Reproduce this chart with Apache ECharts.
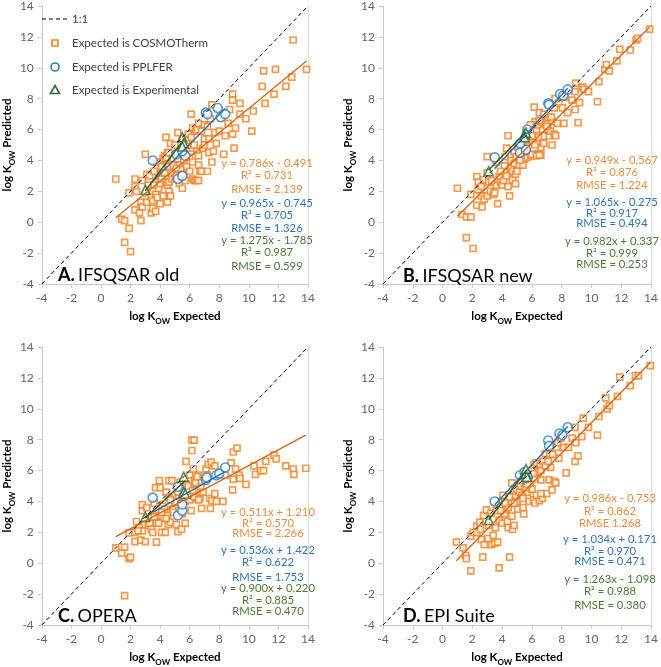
<!DOCTYPE html>
<html><head><meta charset="utf-8">
<script src="https://cdn.jsdelivr.net/npm/echarts@6/dist/echarts.min.js"></script>
<style>html,body{margin:0;padding:0;background:#fff}#c{width:661px;height:667px}</style>
</head><body><div id="c"></div>
<script>
// ---------------- DATA ----------------
const axisTicks = [-4, -2, 0, 2, 4, 6, 8, 10, 12, 14];
const identityLine = [-4, 14];
const seriesNames = ['1:1', 'Expected is COSMOTherm', 'Expected is PPLFER', 'Expected is Experimental'];
const panelLetters = ['A.', 'B.', 'C.', 'D.'];
const panelNames = ['IFSQSAR old', 'IFSQSAR new', 'OPERA', 'EPI Suite'];

const cosmoA = [[1.0,2.8],[1.4,0.2],[1.6,0.1],[1.6,-1.3],[1.9,-0.4],[2.0,-1.9],[1.9,1.9],[2.3,2.8],[2.3,2.3],[2.4,2.0],[2.3,0.8],[2.6,0.6],[2.7,0.1],[2.7,1.3],[2.8,2.7],[2.8,1.0],[3.0,4.4],[3.1,1.3],[3.1,1.9],[3.1,3.1],[3.2,2.4],[3.4,1.6],[3.4,0.6],[3.5,0.9],[3.5,1.4],[3.6,2.4],[3.7,1.8],[3.7,0.7],[3.8,3.8],[3.8,3.5],[3.9,3.0],[3.9,2.2],[4.0,2.5],[4.0,1.2],[4.0,3.9],[4.1,2.8],[4.2,4.1],[4.2,3.4],[4.3,3.2],[4.3,4.3],[4.4,5.5],[4.4,2.6],[4.5,4.5],[4.5,2.4],[4.5,1.3],[4.6,2.0],[4.6,2.6],[4.6,3.6],[4.7,1.7],[4.7,5.1],[4.8,2.8],[4.8,3.2],[4.8,4.0],[4.9,4.1],[4.9,3.7],[5.0,5.0],[5.0,2.9],[5.1,3.0],[5.2,4.1],[5.2,5.8],[5.3,3.7],[5.3,2.5],[5.4,3.4],[5.4,4.6],[5.5,2.2],[5.6,4.0],[5.6,3.1],[5.7,4.4],[5.7,2.7],[5.8,3.6],[5.9,5.7],[5.9,5.0],[6.0,3.3],[6.0,4.2],[6.1,7.0],[6.2,6.1],[6.2,4.8],[6.2,3.9],[6.2,2.8],[6.3,2.7],[6.4,2.7],[6.5,2.7],[6.6,2.7],[6.4,5.9],[6.5,4.6],[6.6,6.4],[6.6,4.3],[6.6,3.7],[6.7,3.3],[6.8,3.3],[6.9,4.8],[7.0,6.3],[7.0,5.4],[7.0,5.0],[7.2,3.3],[7.3,5.4],[7.3,4.5],[7.4,6.7],[7.5,7.6],[7.5,3.9],[7.6,4.6],[7.7,5.8],[7.8,5.1],[8.0,5.9],[8.3,4.4],[8.4,5.6],[8.6,6.4],[8.7,7.3],[8.9,8.3],[8.9,7.9],[8.9,5.7],[9.0,4.8],[9.1,6.1],[9.4,7.7],[9.4,7.0],[9.8,6.7],[10.2,5.9],[10.3,7.2],[10.9,8.8],[11.0,9.8],[11.1,7.7],[11.7,8.3],[11.8,9.9],[12.5,8.8],[12.9,9.4],[13.0,11.8],[13.9,9.9],[3.3,3.0],[3.6,3.3],[4.1,3.6],[4.4,4.2],[4.6,4.5],[5.2,4.5],[5.5,5.4],[5.8,5.3],[6.1,5.5],[6.3,5.0],[6.5,6.0],[6.8,5.9],[7.2,6.2],[5.1,3.5],[4.2,1.7],[3.8,1.6]];
const pplferA = [[3.5,4.0],[5.2,2.8],[5.5,3.0],[5.1,4.4],[5.7,4.3],[5.5,4.6],[7.1,7.1],[7.2,7.0],[7.9,7.4],[8.1,6.8],[8.4,7.0]];
const expA = [[3.0,2.1],[5.5,5.5],[5.6,5.1],[5.5,4.9]];

const cosmoB = [[1.0,2.2],[1.3,0.5],[1.6,0.35],[1.9,0.35],[1.6,-1.0],[2.05,-1.7],[1.9,1.8],[2.3,2.95],[2.4,2.6],[2.4,2.1],[2.3,1.1],[2.65,1.0],[2.6,1.7],[2.6,2.3],[2.75,2.75],[2.8,1.5],[3.0,4.25],[3.0,3.2],[3.1,2.6],[3.0,1.7],[3.2,2.0],[3.4,1.8],[3.5,1.9],[3.6,2.4],[3.7,1.2],[3.8,2.95],[3.9,2.6],[4.0,2.4],[4.1,2.7],[4.15,3.65],[4.2,4.25],[4.3,4.8],[4.4,5.6],[4.5,1.7],[4.5,3.2],[4.6,3.5],[4.7,2.75],[4.7,3.3],[4.6,4.0],[4.8,3.8],[4.8,4.55],[4.95,4.25],[4.9,3.1],[5.05,4.9],[5.15,3.7],[5.4,3.7],[5.4,4.6],[5.6,4.9],[5.7,4.5],[5.8,5.4],[5.95,5.9],[6.05,5.15],[6.1,6.2],[6.15,7.45],[6.2,6.5],[6.25,4.4],[6.4,4.4],[6.45,5.5],[6.5,7.1],[6.6,4.85],[6.6,4.35],[6.7,6.0],[6.75,5.15],[6.9,6.7],[7.05,6.0],[7.1,6.8],[7.15,5.6],[7.25,5.9],[7.35,5.0],[7.4,6.5],[7.5,5.7],[7.55,8.0],[7.6,5.6],[7.7,6.4],[7.8,7.7],[8.05,7.4],[8.15,6.4],[8.25,8.1],[8.4,7.1],[8.7,7.9],[8.9,8.45],[8.95,9.0],[8.9,7.3],[9.1,6.45],[9.2,7.75],[9.4,8.75],[9.5,8.6],[9.8,8.45],[10.4,7.8],[10.5,9.1],[10.9,9.9],[11.0,10.2],[11.2,9.8],[11.7,10.45],[11.9,11.2],[12.6,11.15],[13.0,11.8],[13.1,11.9],[13.9,12.5],[5.3,4.3],[5.5,4.1],[5.7,4.2],[5.9,4.3],[6.0,4.4],[6.3,4.3],[6.5,4.35],[6.2,5.0],[6.0,5.6],[6.3,6.0],[6.4,6.3],[6.6,6.5],[5.9,6.3],[6.5,6.6],[7.0,6.2],[6.8,5.1],[7.5,7.4],[7.3,6.8],[6.8,7.0],[3.3,2.7],[3.9,3.3],[4.3,3.0],[4.4,2.3],[3.6,3.9],[4.9,2.5],[5.2,4.0],[5.0,3.3]];
const pplferB = [[3.5,4.2],[5.2,4.5],[5.6,4.7],[5.2,5.1],[5.7,6.0],[7.1,7.7],[7.15,7.6],[7.9,8.3],[8.1,8.2],[8.4,8.6]];
const expB = [[3.1,3.3],[5.5,5.7],[5.6,5.8],[5.5,5.5]];

const cosmoC = [[1.0,1.0],[1.4,0.66],[1.6,1.04],[1.9,0.3],[2.0,0.4],[1.6,-2.1],[1.9,1.97],[2.3,1.4],[2.3,2.0],[2.4,2.7],[2.6,2.3],[2.7,1.5],[2.8,3.4],[2.8,3.8],[2.8,2.1],[3.0,1.4],[3.1,3.6],[3.2,2.45],[3.4,2.98],[3.4,2.2],[3.5,2.0],[3.6,3.9],[3.7,4.9],[3.75,2.6],[3.75,1.37],[3.9,3.1],[3.95,5.35],[4.0,4.9],[4.1,2.0],[4.15,3.7],[4.2,2.9],[4.35,2.0],[4.4,4.6],[4.5,3.1],[4.55,2.5],[4.6,4.25],[4.6,5.35],[4.7,2.65],[4.8,5.35],[4.85,3.5],[5.0,3.95],[5.1,2.5],[5.2,2.05],[5.25,4.4],[5.35,5.25],[5.45,2.2],[5.5,3.2],[5.7,2.6],[5.75,6.6],[5.8,5.1],[5.9,4.4],[6.0,5.7],[6.1,3.4],[6.15,7.97],[6.3,7.97],[6.15,7.3],[6.25,6.1],[6.35,5.35],[6.45,4.8],[6.5,4.2],[6.6,5.7],[6.7,4.2],[6.75,4.9],[6.8,3.55],[7.0,5.35],[7.1,6.1],[7.25,6.4],[7.35,4.2],[7.4,3.55],[7.45,6.55],[7.5,4.05],[7.7,6.3],[7.7,4.5],[7.8,4.0],[8.25,4.0],[8.4,5.7],[8.8,6.5],[8.9,4.75],[8.95,5.45],[8.95,7.2],[9.1,6.1],[9.2,7.45],[9.35,5.7],[9.4,5.5],[9.8,5.1],[10.35,6.3],[10.45,5.75],[10.8,6.0],[11.0,6.0],[11.15,6.6],[11.7,7.0],[11.85,6.75],[12.5,6.3],[13.0,6.1],[13.05,5.75],[13.85,6.15],[5.2,4.6],[5.5,4.3],[5.7,4.0],[6.0,4.1],[6.3,4.3],[6.6,4.1],[6.9,4.6],[6.4,5.2],[6.8,5.3],[5.9,5.0],[6.2,4.7],[5.4,3.8],[4.9,3.3],[4.4,2.9],[3.9,2.6],[4.3,3.5],[4.7,4.1],[5.3,5.0],[6.5,5.6],[7.2,5.7],[3.3,2.6],[3.6,3.0],[4.1,3.3],[2.5,2.1]];
const pplferC = [[3.5,4.25],[5.2,3.1],[5.5,3.4],[5.5,3.8],[5.2,4.95],[7.1,5.4],[7.15,5.55],[7.8,5.7],[8.0,5.8],[8.4,6.2]];
const expC = [[3.0,3.0],[5.6,5.6],[5.6,4.6],[5.7,4.5]];

const cosmoD = [[0.93,1.37],[1.38,1.0],[1.56,0.5],[1.6,0.3],[1.9,-0.5],[1.9,1.76],[2.05,2.0],[2.3,2.4],[2.3,2.0],[2.5,2.66],[2.55,2.2],[2.6,1.55],[2.7,0.4],[2.75,3.1],[2.8,1.2],[2.95,3.45],[3.05,1.6],[3.1,2.45],[3.25,3.25],[3.3,1.2],[3.4,1.8],[3.5,1.3],[3.55,2.3],[3.6,3.4],[3.7,1.36],[3.8,-0.3],[3.8,2.8],[3.95,3.95],[4.0,2.6],[4.05,4.4],[4.15,3.2],[4.25,3.5],[4.35,2.7],[4.4,2.3],[4.5,0.4],[4.5,4.3],[4.6,3.85],[4.65,5.2],[4.65,3.05],[4.7,2.2],[4.8,2.45],[4.9,4.3],[4.95,4.8],[5.05,3.5],[5.15,4.6],[5.25,5.0],[5.4,3.6],[5.45,3.2],[5.5,4.9],[5.6,5.35],[5.7,4.6],[5.8,4.0],[5.85,5.7],[5.95,6.0],[6.0,4.8],[6.1,4.1],[6.15,6.4],[6.2,3.9],[6.3,6.5],[6.4,5.7],[6.5,4.05],[6.55,6.4],[6.6,5.4],[6.7,4.2],[6.75,6.6],[6.9,7.1],[7.0,4.5],[7.15,5.4],[7.2,7.05],[7.25,6.2],[7.35,4.75],[7.4,7.05],[7.5,5.3],[7.6,5.2],[7.65,7.5],[7.75,7.8],[7.8,6.8],[7.95,8.1],[8.15,7.5],[8.3,5.85],[8.45,7.5],[8.7,8.1],[8.9,8.8],[8.95,7.8],[8.9,6.6],[9.1,6.95],[9.35,8.2],[9.45,9.4],[9.8,8.8],[10.4,8.3],[10.5,9.5],[10.95,10.7],[11.05,10.0],[11.2,10.2],[11.75,10.8],[11.9,12.05],[12.6,11.5],[12.95,12.15],[13.15,12.15],[13.95,12.8],[5.3,4.4],[5.6,4.9],[5.9,5.2],[6.2,5.5],[6.4,5.9],[6.1,5.8],[5.7,5.1],[5.0,4.0],[4.4,3.6],[3.9,3.4],[4.8,3.9],[6.6,6.0],[6.9,6.3],[7.1,6.6],[6.3,4.4],[6.6,4.5],[5.4,4.2],[4.2,3.9]];
const pplferD = [[3.5,4.0],[5.2,5.7],[5.5,5.9],[5.7,5.6],[5.6,5.5],[7.1,7.95],[7.15,7.6],[7.85,8.4],[8.05,8.3],[8.4,8.8]];
const expD = [[3.1,2.8],[5.5,5.8],[5.6,6.1],[5.65,5.6]];

// fitted trendlines printed on the chart: [COSMOTherm, PPLFER, Experimental]
const slopesA = [0.786, 0.965, 1.275], interceptsA = [-0.491, -0.745, -1.785];
const slopesB = [0.949, 1.065, 0.982], interceptsB = [-0.567, -0.275, 0.337];
const slopesC = [0.511, 0.536, 0.900], interceptsC = [1.210, 1.422, 0.220];
const slopesD = [0.986, 1.034, 1.263], interceptsD = [-0.753, 0.171, -1.098];

const statsA = ['y = 0.786x - 0.491','R² = 0.731','RMSE = 2.139','y = 0.965x - 0.745','R² = 0.705','RMSE = 1.326','y = 1.275x - 1.785','R² = 0.987','RMSE = 0.599'];
const statsB = ['y = 0.949x - 0.567','R² = 0.876','RMSE = 1.224','y = 1.065x - 0.275','R² = 0.917','RMSE = 0.494','y = 0.982x + 0.337','R² = 0.999','RMSE = 0.253'];
const statsC = ['y = 0.511x + 1.210','R² = 0.570','RMSE = 2.266','y = 0.536x + 1.422','R² = 0.622','RMSE = 1.753','y = 0.900x + 0.220','R² = 0.885','RMSE = 0.470'];
const statsD = ['y = 0.986x - 0.753','R² = 0.862','RMSE 1.268','y = 1.034x + 0.171','R² = 0.970','RMSE = 0.471','y = 1.263x - 1.098','R² = 0.988','RMSE = 0.380'];

// ---------------- LAYOUT / STYLE ----------------
const FONT = 'Lato, "Open Sans", sans-serif';
const ORANGE = '#F5801F', ORANGE_LINE = '#D9661A', ORANGE_TXT = '#EE8A3C';
const BLUE = '#2E7EC1', BLUE_LINE = '#2A6FAE', BLUE_TXT = '#2E75B6';
const GREEN = '#2F6B2F', GREEN_LINE = '#2F5F2A', GREEN_TXT = '#4A7A34';
const AXC = '#c8c8c8';

const panels = [
  {cosmo: cosmoA, ppl: pplferA, exp: expA, m: slopesA, b: interceptsA, stats: statsA,
   grid: {left: 38, top: 6, width: 270, height: 278}, statX: 267, statY: [163,175,189,203,215,228,240,252,266], label: [58, 275]},
  {cosmo: cosmoB, ppl: pplferB, exp: expB, m: slopesB, b: interceptsB, stats: statsB,
   grid: {left: 383, top: 6, width: 270, height: 278}, statX: 612, statY: [160,172,185,202,213,223,241,253,264], label: [403, 276]},
  {cosmo: cosmoC, ppl: pplferC, exp: expC, m: slopesC, b: interceptsC, stats: statsC,
   grid: {left: 38, top: 347, width: 270, height: 280}, statX: 268, statY: [512,523,533,550,562,577,588,600,611], label: [58, 616]},
  {cosmo: cosmoD, ppl: pplferD, exp: expD, m: slopesD, b: interceptsD, stats: statsD,
   grid: {left: 383, top: 347, width: 270, height: 280}, statX: 610, statY: [498,511,523,539,551,561,579,591,605], label: [403, 616]}
];

function fitLine(data, m, b) {
  const xs = data.map(d => d[0]);
  const x0 = Math.min(...xs), x1 = Math.max(...xs);
  return [[x0, m * x0 + b], [x1, m * x1 + b]];
}

const nameRich = {
  b: {fontSize: 11.5, fontWeight: 'bold', color: '#000', fontFamily: FONT, lineHeight: 18, verticalAlign: 'middle'},
  s: {fontSize: 8, fontWeight: 'bold', color: '#000', fontFamily: FONT, lineHeight: 11, verticalAlign: 'bottom'}
};

const grids = [], xAxes = [], yAxes = [], series = [], graphics = [];
panels.forEach((p, i) => {
  grids.push(p.grid);
  xAxes.push({gridIndex: i, type: 'value', min: axisTicks[0], max: axisTicks[axisTicks.length - 1], interval: 2,
    axisLine: {show: true, onZero: false, lineStyle: {color: AXC}},
    axisTick: {show: true, length: 4, lineStyle: {color: AXC}},
    splitLine: {show: false},
    axisLabel: {color: '#666', fontSize: 12, margin: 8, fontFamily: FONT},
    name: '{b|log K}{s|OW}{b| Expected}', nameLocation: 'middle', nameGap: 23,
    nameTextStyle: {rich: nameRich}});
  yAxes.push({gridIndex: i, type: 'value', min: axisTicks[0], max: axisTicks[axisTicks.length - 1], interval: 2,
    axisLine: {show: true, onZero: false, lineStyle: {color: AXC}},
    axisTick: {show: true, length: 4, lineStyle: {color: AXC}},
    splitLine: {show: false},
    axisLabel: {color: '#666', fontSize: 12, margin: 8, fontFamily: FONT},
    name: '{b|log K}{s|OW}{b| Predicted}', nameLocation: 'middle', nameGap: 19, nameRotate: 90,
    nameTextStyle: {rich: nameRich}});
});
panels.forEach((p, i) => {
  yAxes.push({gridIndex: i, type: 'value', position: 'right', min: axisTicks[0], max: axisTicks[axisTicks.length - 1],
    axisLine: {show: true, onZero: false, lineStyle: {color: '#dcdcdc'}}, axisTick: {show: false},
    axisLabel: {show: false}, splitLine: {show: false}});
});

panels.forEach((p, i) => {
  const ax = {xAxisIndex: i, yAxisIndex: i};
  series.push(Object.assign({type: 'scatter', name: seriesNames[1], data: p.cosmo, symbol: 'rect', symbolSize: 6, z: 2,
    itemStyle: {color: '#fff', borderColor: ORANGE, borderWidth: 1.7}}, ax));
  series.push(Object.assign({type: 'scatter', name: seriesNames[2], data: p.ppl, symbol: 'circle', symbolSize: 9, z: 3,
    itemStyle: {color: '#fff', borderColor: BLUE, borderWidth: 1.6}}, ax));
  series.push(Object.assign({type: 'scatter', name: seriesNames[3], data: p.exp, symbol: 'triangle', symbolSize: 9, z: 4,
    itemStyle: {color: '#fff', borderColor: GREEN, borderWidth: 1.6}}, ax));
  series.push(Object.assign({type: 'line', name: seriesNames[0], data: [[identityLine[0], identityLine[0]], [identityLine[1], identityLine[1]]],
    symbol: 'none', z: 5, lineStyle: {color: '#000', width: 1, type: [4, 3]}, silent: true}, ax));
  const cols = [ORANGE_LINE, BLUE_LINE, GREEN_LINE];
  [p.cosmo, p.ppl, p.exp].forEach((d, k) => {
    series.push(Object.assign({type: 'line', name: 'fit' + i + k, data: fitLine(d, p.m[k], p.b[k]), symbol: 'none', z: 6,
      lineStyle: {color: cols[k], width: 1.4}, silent: true}, ax));
  });
  const tcols = [ORANGE_TXT, ORANGE_TXT, ORANGE_TXT, BLUE_TXT, BLUE_TXT, BLUE_TXT, GREEN_TXT, GREEN_TXT, GREEN_TXT];
  p.stats.forEach((t, k) => {
    graphics.push({type: 'text', z: 10, style: {text: t, x: p.statX, y: p.statY[k], textAlign: 'center',
      verticalAlign: 'middle', fontSize: 11.3, fontFamily: FONT, fill: tcols[k]}});
  });
  graphics.push({type: 'text', z: 10, style: {text: '{l|' + panelLetters[i] + '} {n|' + panelNames[i] + '}', x: p.label[0], y: p.label[1],
    verticalAlign: 'middle',
    rich: {l: {fontSize: 18, fontWeight: 'bold', fill: '#000', fontFamily: FONT}, n: {fontSize: 18, fill: '#000', fontFamily: FONT}}}});
});

// legend (panel A), drawn as graphic elements
const legY = [19, 43, 67, 90];
graphics.push({type: 'line', z: 10, shape: {x1: 42, y1: legY[0], x2: 67, y2: legY[0]}, style: {stroke: '#000', lineWidth: 1, lineDash: [4, 3]}});
graphics.push({type: 'rect', z: 10, shape: {x: 52, y: legY[1] - 3, width: 6, height: 6}, style: {fill: '#fff', stroke: ORANGE, lineWidth: 1.7}});
graphics.push({type: 'circle', z: 10, shape: {cx: 55, cy: legY[2], r: 4}, style: {fill: '#fff', stroke: BLUE, lineWidth: 1.6}});
graphics.push({type: 'polygon', z: 10, shape: {points: [[55, legY[3] - 4.5], [59.5, legY[3] + 3.5], [50.5, legY[3] + 3.5]]}, style: {fill: '#fff', stroke: GREEN, lineWidth: 1.6}});
seriesNames.forEach((n, k) => {
  graphics.push({type: 'text', z: 10, style: {text: n, x: 72, y: legY[k], verticalAlign: 'middle', fontSize: 11.5, fontFamily: FONT, fill: '#404040'}});
});

const chart = echarts.init(document.getElementById('c'), null, {renderer: 'canvas'});
chart.setOption({
  animation: false,
  backgroundColor: '#fff',
  grid: grids, xAxis: xAxes, yAxis: yAxes, series: series, graphic: graphics
});
</script></body></html>
